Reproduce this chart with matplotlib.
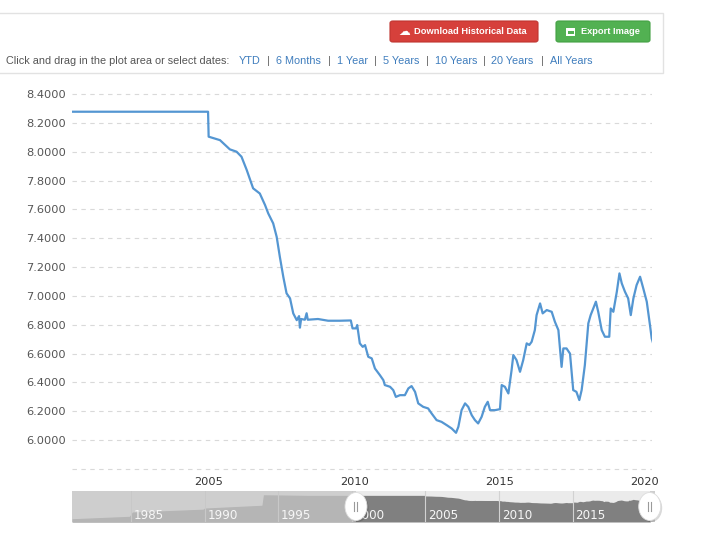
import matplotlib
matplotlib.use('Agg')
import matplotlib.pyplot as plt
from matplotlib import font_manager
from matplotlib.patches import Ellipse, Rectangle, FancyBboxPatch
from matplotlib.lines import Line2D
from matplotlib.transforms import IdentityTransform, blended_transform_factory, offset_copy

# ---------------- data ----------------
dates = [2000.29, 2004.97, 2004.99, 2005.38, 2005.72, 2005.95, 2006.12, 2006.30, 2006.52,
         2006.75, 2006.93, 2007.04, 2007.21, 2007.33, 2007.44, 2007.56, 2007.67, 2007.79,
         2007.90, 2008.02, 2008.10, 2008.13, 2008.17, 2008.30, 2008.36, 2008.40, 2008.75,
         2009.10, 2009.50, 2009.88, 2009.94, 2010.06, 2010.10, 2010.19, 2010.29, 2010.37,
         2010.48, 2010.60, 2010.71, 2010.88, 2011.00, 2011.05, 2011.23, 2011.34, 2011.43,
         2011.57, 2011.74, 2011.86, 2011.97, 2012.09, 2012.20, 2012.37, 2012.54, 2012.66,
         2012.83, 2013.00, 2013.18, 2013.35, 2013.50, 2013.58, 2013.69, 2013.81, 2013.92,
         2014.04, 2014.15, 2014.26, 2014.38, 2014.49, 2014.59, 2014.67, 2014.84, 2015.01,
         2015.07, 2015.18, 2015.30, 2015.41, 2015.47, 2015.58, 2015.70, 2015.81, 2015.93,
         2016.02, 2016.10, 2016.21, 2016.27, 2016.39, 2016.48, 2016.62, 2016.79, 2016.90,
         2017.02, 2017.13, 2017.19, 2017.30, 2017.42, 2017.53, 2017.64, 2017.74, 2017.82,
         2017.93, 2018.05, 2018.13, 2018.22, 2018.31, 2018.39, 2018.51, 2018.62, 2018.77,
         2018.82, 2018.91, 2019.03, 2019.12, 2019.20, 2019.31, 2019.42, 2019.51, 2019.60,
         2019.71, 2019.83, 2019.94, 2020.06, 2020.17, 2020.23, 2020.28]
rates = [8.277, 8.277, 8.104, 8.080, 8.016, 8.000, 7.965, 7.873, 7.746,
         7.710, 7.630, 7.572, 7.503, 7.410, 7.270, 7.130, 7.018, 6.983,
         6.879, 6.832, 6.860, 6.780, 6.840, 6.835, 6.880, 6.835, 6.840,
         6.828, 6.828, 6.830, 6.775, 6.775, 6.798, 6.671, 6.647, 6.659,
         6.578, 6.567, 6.497, 6.451, 6.416, 6.382, 6.370, 6.347, 6.300,
         6.312, 6.312, 6.359, 6.375, 6.335, 6.255, 6.231, 6.220, 6.185,
         6.139, 6.127, 6.104, 6.081, 6.051, 6.093, 6.208, 6.255, 6.231,
         6.173, 6.139, 6.116, 6.162, 6.231, 6.266, 6.208, 6.208, 6.215,
         6.382, 6.370, 6.324, 6.485, 6.590, 6.555, 6.474, 6.555, 6.671,
         6.660, 6.682, 6.763, 6.867, 6.948, 6.879, 6.902, 6.890, 6.821,
         6.763, 6.508, 6.636, 6.636, 6.600, 6.347, 6.335, 6.278, 6.347,
         6.520, 6.810, 6.867, 6.913, 6.960, 6.890, 6.763, 6.717, 6.717,
         6.913, 6.890, 7.029, 7.156, 7.087, 7.029, 6.983, 6.867, 6.983,
         7.075, 7.133, 7.052, 6.960, 6.798, 6.705, 6.671]

# longer history shown only in the navigator strip
nav_hist_dates = [1981.0, 1984.9, 1985.1, 1989.9, 1990.0, 1993.9, 1994.0, 1995.0, 1997.0]
nav_hist_rates = [1.71, 2.39, 3.60, 4.40, 4.72, 5.50, 8.45, 8.40, 8.28]

y_ticks = [5.8, 6.0, 6.2, 6.4, 6.6, 6.8, 7.0, 7.2, 7.4, 7.6, 7.8, 8.0, 8.2, 8.4]
x_ticks = [2005, 2010, 2015, 2020]
nav_ticks = [1985, 1990, 1995, 2000, 2005, 2010, 2015]
range_labels = ['YTD', '6 Months', '1 Year', '5 Years', '10 Years', '20 Years', 'All Years']
prompt_text = 'Click and drag in the plot area or select dates:'
btn_download = 'Download Historical Data'
btn_export = 'Export Image'

# ---------------- helpers ----------------
W, H = 704, 541


def fx(px):
    return px / W


def fy(py):
    return 1 - py / H


def has_font(name):
    try:
        font_manager.findfont(font_manager.FontProperties(family=name), fallback_to_default=False)
        return True
    except Exception:
        return False


if has_font('Liberation Sans Narrow'):
    NARROW, NSIZE, BSIZE = 'Liberation Sans Narrow', 9.5, 8.0
else:
    NARROW, NSIZE, BSIZE = 'Liberation Sans', 7.8, 6.7

fig = plt.figure(figsize=(W / 100, H / 100), dpi=100)
fig.patch.set_facecolor('white')

# ---------------- toolbar ----------------
fig.patches.append(Rectangle((fx(-3), fy(73)), 666 / W, 60 / H, transform=fig.transFigure,
                             facecolor='white', edgecolor='#e2e2e2', lw=1.0, zorder=0))
fig.patches.append(FancyBboxPatch((fx(390), fy(42)), 148 / W, 21 / H, transform=fig.transFigure,
                                  boxstyle='round,pad=0,rounding_size=0.004',
                                  facecolor='#d6403b', edgecolor='#c03530', lw=0.8, zorder=1))
fig.patches.append(FancyBboxPatch((fx(556), fy(42)), 94 / W, 21 / H, transform=fig.transFigure,
                                  boxstyle='round,pad=0,rounding_size=0.004',
                                  facecolor='#52b152', edgecolor='#43a043', lw=0.8, zorder=1))
fig.text(fx(404), fy(31.5), '☁', color='white', fontsize=8.5, ha='center', va='center',
         family=['DejaVu Sans'], zorder=2)
fig.text(fx(470), fy(31.5), btn_download, color='white', fontsize=BSIZE, weight='bold',
         ha='center', va='center', family=[NARROW, 'DejaVu Sans'], zorder=2)
fig.patches.append(Rectangle((fx(566), fy(35.5)), 9 / W, 8 / H, transform=fig.transFigure,
                             facecolor='white', edgecolor='none', zorder=2))
fig.patches.append(Rectangle((fx(567.5), fy(34)), 6 / W, 3 / H, transform=fig.transFigure,
                             facecolor='#52b152', edgecolor='none', zorder=3))
fig.text(fx(610.5), fy(31.5), btn_export, color='white', fontsize=BSIZE, weight='bold',
         ha='center', va='center', family=[NARROW, 'DejaVu Sans'], zorder=2)

fig.text(fx(6), fy(61.5), prompt_text, color='#555555', fontsize=NSIZE, ha='left', va='center',
         family=[NARROW, 'DejaVu Sans'])
label_x = [239, 276, 337, 383, 435, 491, 550]
sep_x = [268, 329, 375, 427, 484, 542]
for lx, lab in zip(label_x, range_labels):
    fig.text(fx(lx), fy(61.5), lab, color='#3f7dbd', fontsize=NSIZE, ha='left', va='center',
             family=[NARROW, 'DejaVu Sans'])
for sx in sep_x:
    fig.text(fx(sx), fy(61.5), '|', color='#666666', fontsize=NSIZE, ha='center', va='center',
             family=[NARROW, 'DejaVu Sans'])

# ---------------- main chart ----------------
ax = fig.add_axes([fx(72), fy(471.9), (652 - 72) / W, (471.9 - 91.1) / H])
ax.plot(dates, rates, color='#5496d2', lw=1.6, solid_joinstyle='round', zorder=3)
ax.set_xlim(2000.29, 2020.24)
ax.set_ylim(5.78, 8.42)
ax.set_yticks(y_ticks)
ax.set_yticklabels(['' if v < 5.9 else f'{v:.4f}' for v in y_ticks])
ax.set_xticks(x_ticks)
ax.set_xticklabels([str(t) for t in x_ticks])
ax.grid(axis='y', color='#d9d9d9', linestyle=(0, (4, 4)), lw=0.8)
ax.grid(axis='x', visible=False)
ax.tick_params(length=0, labelsize=8.2, labelcolor='#555555')
ax.tick_params(axis='y', pad=4.5)
ax.tick_params(axis='x', pad=4.0, labelcolor='#333333')
for s in ax.spines.values():
    s.set_visible(False)
ax.set_facecolor('white')

# ---------------- navigator ----------------
nav_x0, nav_x1 = 1981.0, 2020.6
nav_y0, nav_y1 = 0.78, 9.5
nav = fig.add_axes([fx(72), fy(522), (655 - 72) / W, 31 / H])
nav.set_xlim(nav_x0, nav_x1)
nav.set_ylim(nav_y0, nav_y1)
nav.set_facecolor('#ebebeb')
nav_all_x = nav_hist_dates + dates
nav_all_y = nav_hist_rates + rates
nav.fill_between(nav_all_x, nav_all_y, nav_y0, color='#808080', lw=0, zorder=2)
for t in nav_ticks:
    nav.axvline(t, color='#d2d2d2', lw=0.8, zorder=3)
nav.axvspan(nav_x0, dates[0], color='#c6c6c6', alpha=0.76, lw=0, zorder=4)
nav.axvspan(ax.get_xlim()[1], nav_x1, color='#c6c6c6', alpha=0.76, lw=0, zorder=4)
bt = blended_transform_factory(nav.transData, nav.transAxes)
bt = offset_copy(bt, fig=fig, x=2, y=0, units='points')
for t in nav_ticks:
    nav.text(t, 0.22, str(t), transform=bt, color='#f7f7f7', fontsize=8.6, ha='left', va='center',
             zorder=5, clip_on=True)
nav.set_xticks([])
nav.set_yticks([])
for s in nav.spines.values():
    s.set_visible(False)

# handles
fig.canvas.draw()
ident = IdentityTransform()
for hx in (ax.get_xlim()[0], ax.get_xlim()[1]):
    px, py = nav.transData.transform((hx, (nav_y0 + nav_y1) / 2))
    shadow = Ellipse((px + 1.5, py - 1.5), 22, 28, transform=ident, facecolor='#000000',
                     alpha=0.15, edgecolor='none', zorder=10)
    knob = Ellipse((px, py), 22, 28, transform=ident, facecolor='white',
                   edgecolor='#dddddd', lw=0.6, zorder=11)
    fig.patches.extend([shadow, knob])
    for dx in (-1.5, 1.5):
        fig.lines.append(Line2D([px + dx, px + dx], [py - 4.5, py + 4.5], transform=ident,
                                color='#9a9a9a', lw=0.8, zorder=12))

fig.savefig('out.png', dpi=100, facecolor='white')
